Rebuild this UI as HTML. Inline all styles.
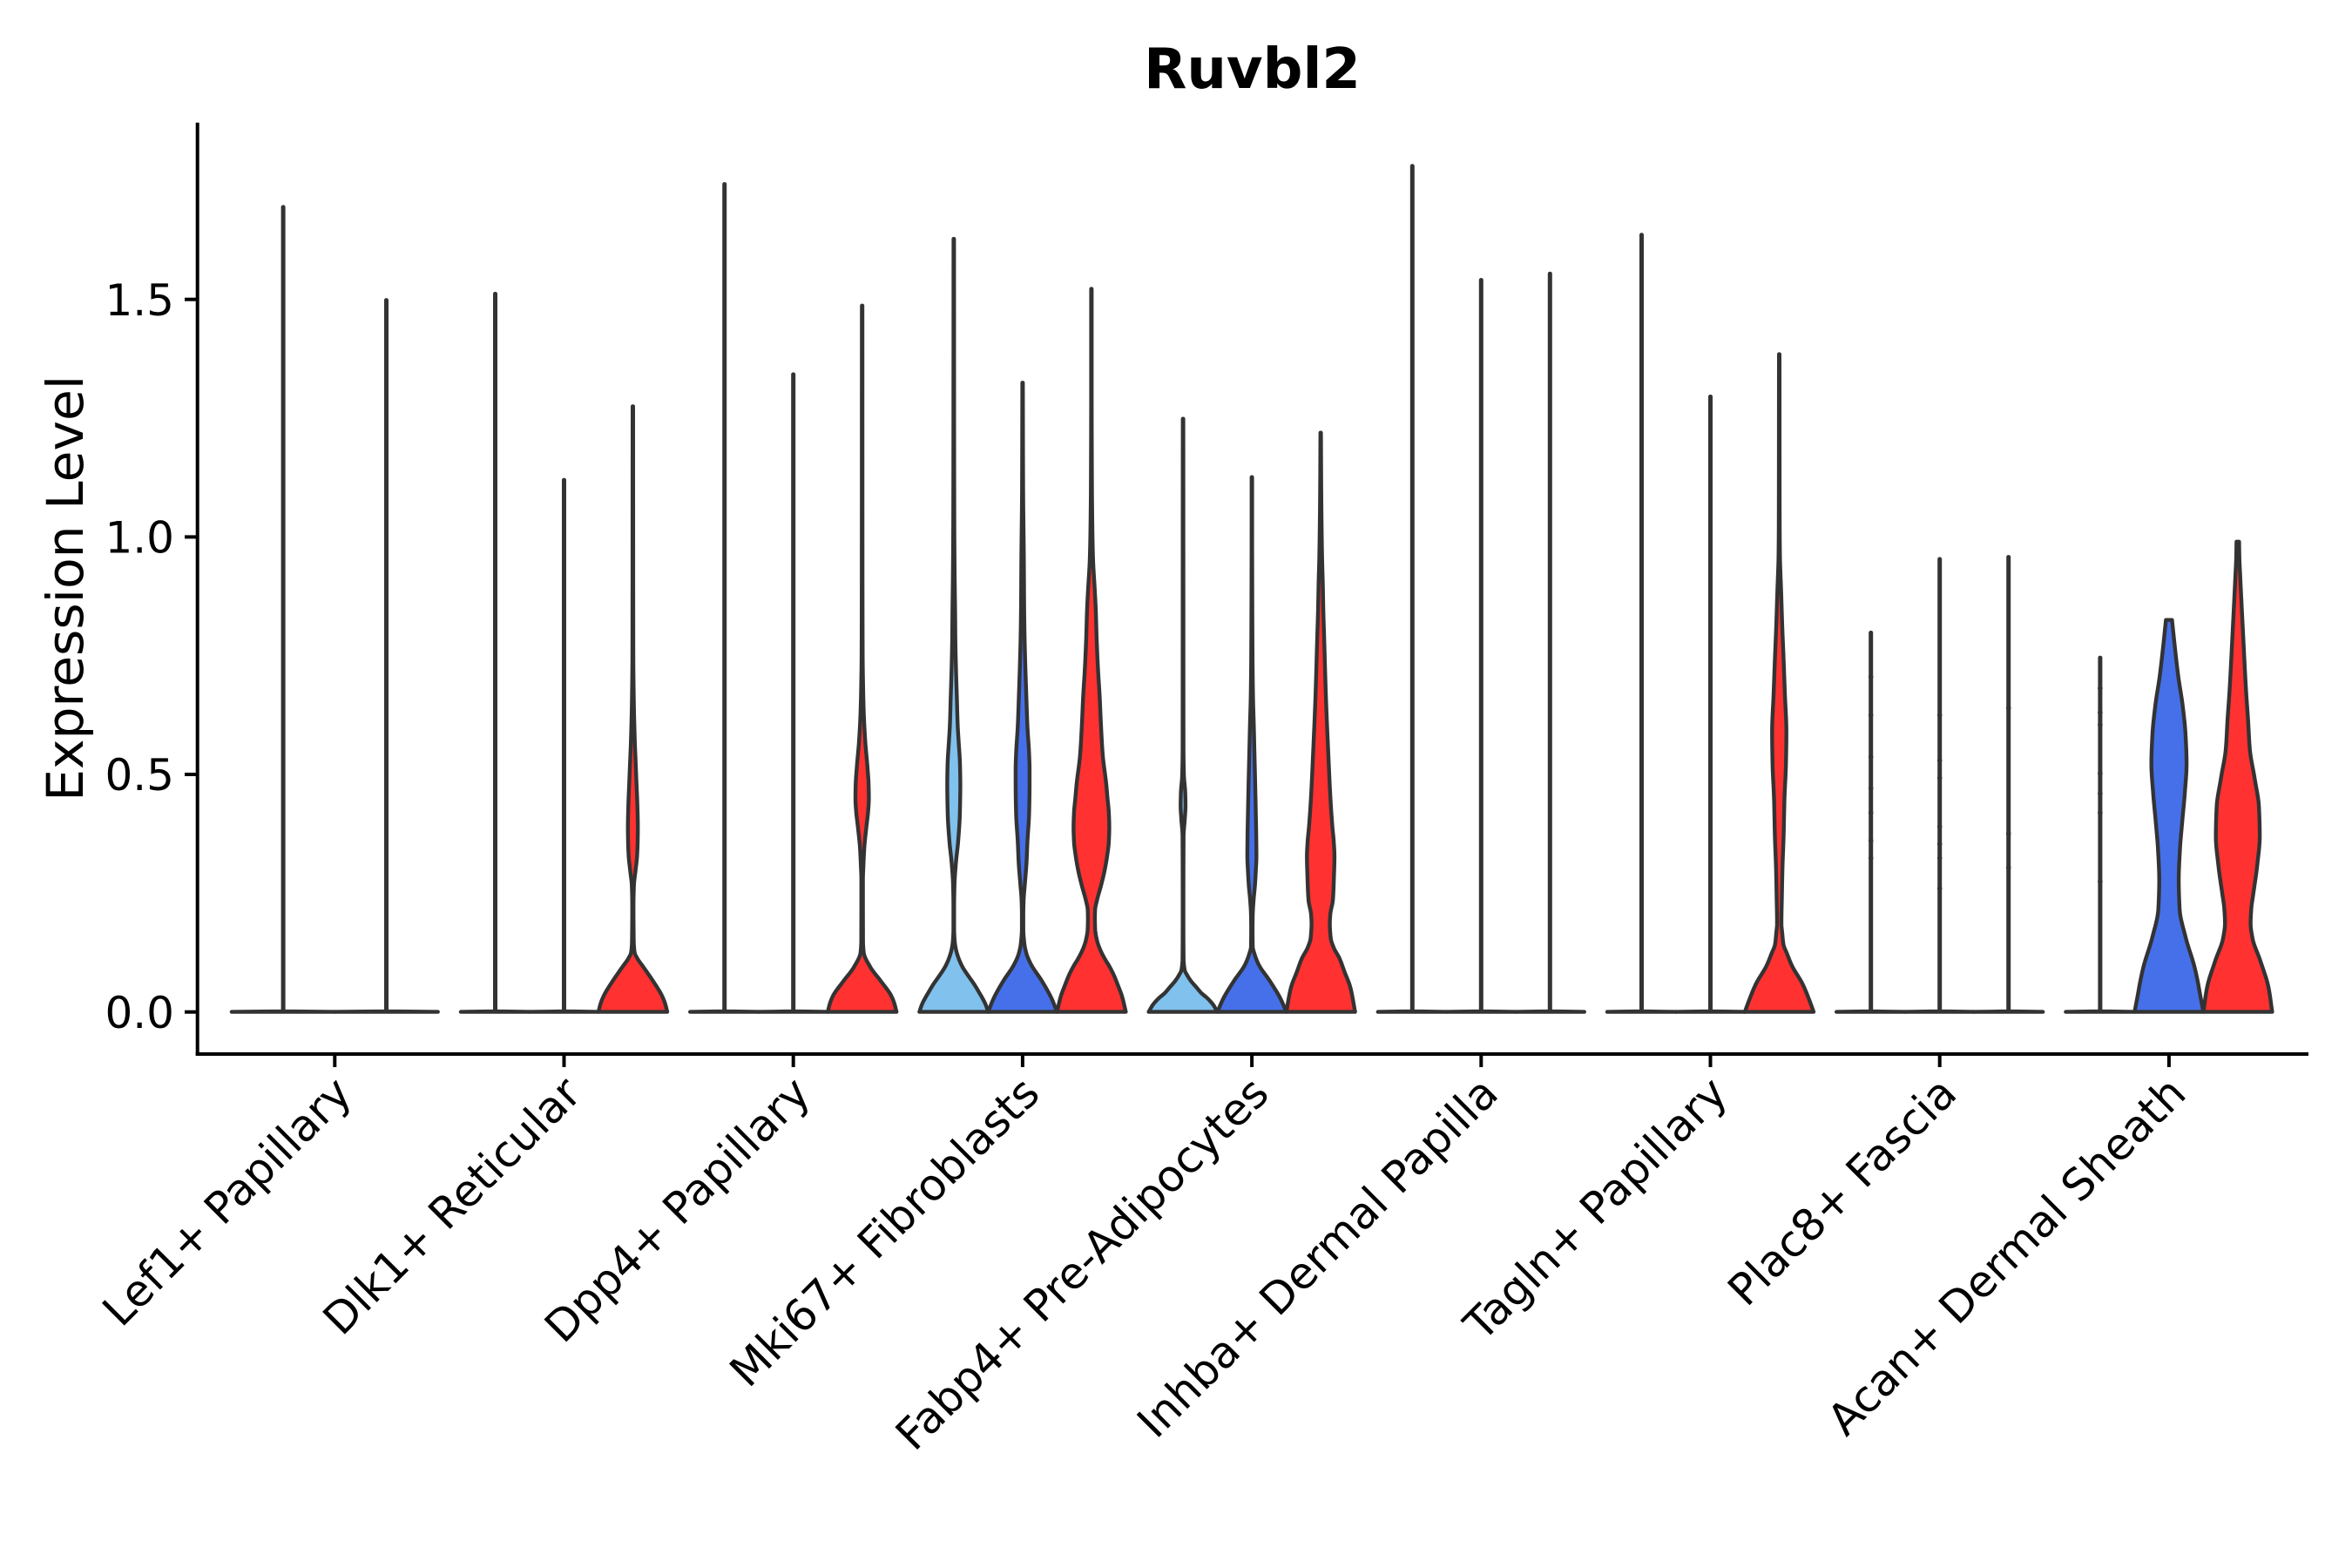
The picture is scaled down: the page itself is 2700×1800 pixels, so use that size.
<!DOCTYPE html>
<html><head><meta charset="utf-8">
<style>html,body{margin:0;padding:0;background:#fff;}svg{display:block;}</style>
</head><body>
<svg id="s" width="2700" height="1800" viewBox="0 0 2700 1800" xmlns="http://www.w3.org/2000/svg">
<rect width="2700" height="1800" fill="#fff"/>
<g id="v" stroke="#333333" stroke-width="4.4" stroke-linejoin="round" stroke-linecap="round"></g>
<g id="dots" fill="#333333"></g>
<g stroke="#000" stroke-width="4" stroke-linecap="butt">
<line x1="226.7" y1="140.7" x2="226.7" y2="1212"/>
<line x1="224.7" y1="1210" x2="2650" y2="1210"/>
<line x1="212" y1="1161.7" x2="226.7" y2="1161.7"/>
<line x1="212" y1="889" x2="226.7" y2="889"/>
<line x1="212" y1="616.4" x2="226.7" y2="616.4"/>
<line x1="212" y1="343.7" x2="226.7" y2="343.7"/>
<line x1="384.3" y1="1210" x2="384.3" y2="1225"/>
<line x1="647.5" y1="1210" x2="647.5" y2="1225"/>
<line x1="910.7" y1="1210" x2="910.7" y2="1225"/>
<line x1="1173.9" y1="1210" x2="1173.9" y2="1225"/>
<line x1="1437.1" y1="1210" x2="1437.1" y2="1225"/>
<line x1="1700.3" y1="1210" x2="1700.3" y2="1225"/>
<line x1="1963.5" y1="1210" x2="1963.5" y2="1225"/>
<line x1="2226.7" y1="1210" x2="2226.7" y2="1225"/>
<line x1="2489.9" y1="1210" x2="2489.9" y2="1225"/>
</g>
<g font-family="'DejaVu Sans', 'Liberation Sans', sans-serif" fill="#000">
<text x="1437.5" y="101" font-size="64" font-weight="bold" text-anchor="middle">Ruvbl2</text>
<text transform="translate(95,675.4) rotate(-90)" font-size="58.3" text-anchor="middle">Expression Level</text>
<g font-size="50" text-anchor="end">
<text x="200" y="1179.9">0.0</text>
<text x="200" y="907.2">0.5</text>
<text x="200" y="634.6">1.0</text>
<text x="200" y="361.9">1.5</text>
</g>
<g font-size="50" text-anchor="end">
<text transform="translate(406.3,1258) rotate(-45)">Lef1+ Papillary</text>
<text transform="translate(669.5,1258) rotate(-45)">Dlk1+ Reticular</text>
<text transform="translate(932.7,1258) rotate(-45)">Dpp4+ Papillary</text>
<text transform="translate(1195.9,1258) rotate(-45)">Mki67+ Fibroblasts</text>
<text transform="translate(1459.1,1258) rotate(-45)">Fabp4+ Pre-Adipocytes</text>
<text transform="translate(1722.3,1258) rotate(-45)">Inhba+ Dermal Papilla</text>
<text transform="translate(1985.5,1258) rotate(-45)">Tagln+ Papillary</text>
<text transform="translate(2248.7,1258) rotate(-45)">Plac8+ Fascia</text>
<text transform="translate(2511.9,1258) rotate(-45)">Acan+ Dermal Sheath</text>
</g>
</g>
</svg>
<script>
(function(){
var NS="http://www.w3.org/2000/svg";
var g=document.getElementById('v');
var LB="#80C1EE", BL="#4570EA", RD="#FF3131";
function f(n){return n.toFixed(2);}
// PCHIP interpolation of hw(y); prof given base-first (descending y)
function sample(prof){
  var P=prof.slice().reverse(); // ascending y
  var n=P.length, x=P.map(function(p){return p[0];}), y=P.map(function(p){return p[1];});
  var h=[],d=[],m=[];
  for(var i=0;i<n-1;i++){h[i]=x[i+1]-x[i];d[i]=(y[i+1]-y[i])/h[i];}
  m[0]=d[0];m[n-1]=d[n-2];
  for(i=1;i<n-1;i++){
    if(d[i-1]*d[i]<=0){m[i]=0;}
    else{var w1=2*h[i]+h[i-1],w2=h[i]+2*h[i-1];m[i]=(w1+w2)/(w1/d[i-1]+w2/d[i]);}
  }
  var out=[];
  for(i=0;i<n-1;i++){
    var steps=Math.max(1,Math.ceil(h[i]/1.5));
    for(var k=0;k<steps;k++){
      var t=k/steps,t2=t*t,t3=t2*t;
      var v=(2*t3-3*t2+1)*y[i]+(t3-2*t2+t)*h[i]*m[i]+(-2*t3+3*t2)*y[i+1]+(t3-t2)*h[i]*m[i+1];
      out.push([x[i]+t*h[i],Math.max(0.25,v)]);
    }
  }
  out.push([x[n-1],y[n-1]]);
  return out; // ascending y (top first)
}
function violin(c,prof,fill,smooth){
  var pts=smooth?sample(prof):prof.slice().reverse();
  // pts ascending y: top -> base
  var left=pts.slice().reverse().map(function(p){return [c-p[1],p[0]];}); // base -> top
  var right=pts.map(function(p){return [c+p[1],p[0]];}); // top -> base
  var all=left.concat(right);
  var d='M'+all.map(function(p){return f(p[0])+','+f(p[1]);}).join('L')+'Z';
  var p=document.createElementNS(NS,'path');
  p.setAttribute('d',d);p.setAttribute('fill',fill);
  g.appendChild(p);
}
var B=1161.6;
function flat(c,W,top,fill){
  violin(c,[[B,W],[B-0.6,2],[B-1.5,0.3],[top,0.3]],fill,false);
}
flat(325.1,59.2,237.6,LB); flat(443.5,59.2,344.4,BL);
flat(568.5,39.5,337.2,LB); flat(647.5,39.5,550.9,BL);
flat(831.7,39.5,211.3,LB); flat(910.7,39.5,429.7,BL);
flat(1621.3,39.5,190.5,LB); flat(1700.3,39.5,321.3,BL); flat(1779.3,39.5,314.1,RD);
flat(1884.5,39.5,269.5,LB); flat(1963.5,39.5,455.2,BL);
flat(2147.7,39.5,726.2,LB); flat(2226.7,39.5,641.7,BL); flat(2305.7,39.5,639.3,RD);
flat(2410.9,39.5,754.9,LB);

// Dlk1 red
violin(726.5,[[B,39.5],[1152,37],[1143.3,33.5],[1126.7,23.5],[1110,12],[1100,5],[1093.3,2],[1080,1.0],[1040,0.7],[1016.7,1.2],[1000,3],[983,4.8],[966,5.5],[950,5.7],[925,5.2],[900,4.2],[875,3.2],[850,2.2],[800,1.0],[750,0.5],[466.4,0.3]],RD,true);
// Dpp4 red
violin(989.7,[[B,39.5],[1152,37],[1143.3,33.5],[1126.7,21.8],[1110,9.3],[1093.3,1.8],[1080,1.0],[1010,0.9],[993,1.5],[973,2.5],[950,4.8],[930,7],[916.7,7.7],[900,7.4],[883,6.3],[850,3.5],[816.7,1.8],[783,1.0],[750,0.6],[650,0.4],[350.8,0.3]],RD,true);
// Mki67
violin(1094.9,[[B,39.5],[1153,36.5],[1146,33],[1140,29.5],[1130,23.5],[1120,16.5],[1110,10],[1100,5.5],[1090,2.5],[1080,1],[1066,0.4],[1040,0.4],[1016,0.8],[990,2.5],[966,5],[933,7],[900,7.5],[877,7.1],[850,5.5],[833,4.5],[800,3.5],[767,2.5],[733,1.8],[700,1.5],[660,1],[600,0.6],[480,0.4],[274.2,0.3]],LB,true);
violin(1173.9,[[B,39.5],[1146.7,33.5],[1126.7,22.5],[1106.7,9.5],[1095,4.5],[1083,2],[1066,0.8],[1050,0.8],[1033,1.2],[1016,2.5],[990,4.5],[967,5.5],[933,7.5],[900,8],[883,8],[866,7.5],[833,5.5],[800,4.3],[767,3.2],[733,2.3],[700,1.8],[640,1.4],[560,0.6],[439.3,0.3]],BL,true);
violin(1252.9,[[B,39.5],[1143.3,35],[1130,30],[1120,26],[1110,21],[1100,15],[1090,10],[1080,6.5],[1066.7,4.3],[1055,4],[1045,4.2],[1033,6.5],[1016.7,11],[1000,15],[983,18],[966,20],[950,20.5],[933,20],[916.7,18.5],[900,17],[866.7,13],[833,11],[800,9.5],[767,7.5],[733,6],[700,5],[680,4],[640,1.8],[600,1.0],[558,0.6],[450,0.3],[331.6,0.3]],RD,true);
// Fabp4
violin(1358.1,[[B,39.5],[1153.3,34.5],[1146,28],[1140,21],[1133,15],[1126.7,9.5],[1120,5],[1113.3,1.8],[1100,0.6],[1050,0.4],[960,0.6],[940,2],[925,2.8],[910,2.5],[890,1],[860,0.5],[700,0.4],[480.7,0.3]],LB,true);
violin(1437.1,[[B,39.5],[1146.7,33],[1126.7,21],[1106.7,7.5],[1095,3],[1086.7,1],[1066,0.8],[1050,1],[1033,2],[1016.7,3.5],[1000,4.5],[983.3,5.2],[960,5],[933.3,4.5],[900,3.8],[866.7,3],[833,2.2],[800,1.3],[760,0.8],[700,0.5],[600,0.3],[547.7,0.3]],BL,true);
violin(1516.1,[[B,39.5],[1133.3,34],[1116,27.5],[1100,21.5],[1088,15],[1076.7,11.5],[1060,10.5],[1050,11],[1033,14],[1006.7,15.2],[983.3,15.8],[966,15],[950,13.5],[916.7,11.2],[866.7,8.8],[800,6],[733,4],[700,3],[670,2.4],[640,1.6],[600,1.0],[558,0.6],[496.7,0.3]],RD,true);
// Tagln red
violin(2042.5,[[B,39.5],[1148,34.5],[1130,27],[1108,14.3],[1095,9],[1084,4.8],[1072,3.5],[1060,2.5],[1030,3],[996.5,3.7],[960,5],[916.8,6],[877,7.7],[840,8.2],[797.2,6.5],[757,5],[717.5,3.4],[680,2.2],[637.8,0.8],[600,0.5],[406.6,0.3]],RD,true);
// Acan
violin(2489.9,[[B,39.5],[1143.3,36],[1126.7,33],[1110,29.3],[1076.7,19.3],[1043.3,12.2],[1010,11.2],[976.7,12.5],[943.3,15.2],[910,18.2],[876.7,20.2],[843.3,19],[810,15.7],[776.7,10.7],[743.3,6.8],[711.7,3.5]],BL,true);
violin(2568.9,[[B,39.5],[1133.3,35.2],[1103.3,26],[1076.7,16.8],[1060,14.7],[1043,15.5],[1026.7,17.7],[993.3,22.3],[960,25.2],[926.7,24.3],[893.3,19.3],[860,13.8],[826.7,11.8],[793.3,9.5],[726.7,6],[660,2.7],[640,1.8],[621.8,1.5]],RD,true);

var dg=document.getElementById('dots');
function dots(x,ys){ys.forEach(function(y){var c=document.createElementNS(NS,'circle');c.setAttribute('cx',x);c.setAttribute('cy',y);c.setAttribute('r','2.8');dg.appendChild(c);});}
dots(2147.7,[777,821,869,905,933,965,985]);
dots(2226.7,[821,873,893,949,969,985,1020]);
dots(2305.7,[813,957,996]);
dots(2410.9,[790,818,832,888,911,933,1012]);
})();
</script>
</body></html>
